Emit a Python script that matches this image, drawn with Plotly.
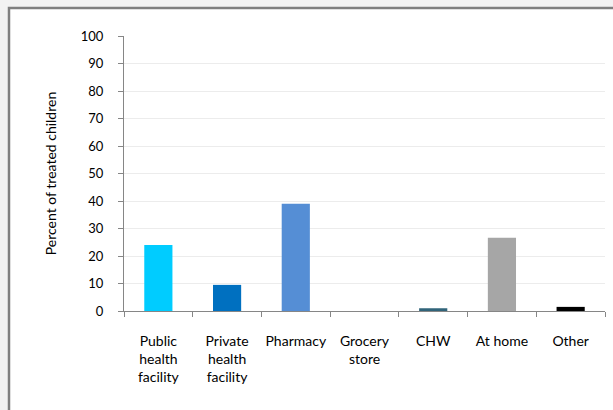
import plotly.graph_objects as go

categories = ["Public<br>health<br>facility", "Private<br>health<br>facility", "Pharmacy",
              "Grocery<br>store", "CHW", "At home", "Other"]
percent_treated = [24, 9.5, 39, 0, 1, 26.6, 1.5]
bar_colors = ["#00CCFF", "#0070C0", "#558ED5", "#31859C", "#31647A", "#A6A6A6", "#000000"]
y_ticks = [0, 10, 20, 30, 40, 50, 60, 70, 80, 90, 100]

W, H = 613, 410
L, R, T, B = 124, 8, 36, 99
pw, ph = W - L - R, H - T - B

def px_x(p):
    return (p - L) / pw

def px_y(p):
    return (H - B - p) / ph

fig = go.Figure(go.Bar(
    x=categories, y=percent_treated,
    marker=dict(color=bar_colors, line=dict(width=0)),
    width=0.41,
))

# white chart card with a gray frame on a light gray page
fig.add_shape(type="rect", xref="paper", yref="paper",
              x0=px_x(9), x1=px_x(640), y0=px_y(8), y1=px_y(440),
              fillcolor="white", line=dict(color="#7f7f7f", width=2.5), layer="below")

font = dict(family="Lato, 'Open Sans', sans-serif", size=13, color="#000000")

fig.update_layout(
    width=W, height=H,
    margin=dict(l=L, r=R, t=T, b=B),
    paper_bgcolor="#f2f2f2",
    plot_bgcolor="rgba(0,0,0,0)",
    font=font,
    showlegend=False,
    bargap=0.59,
    xaxis=dict(
        type="category", tickson="boundaries", ticks="outside", ticklen=5,
        tickcolor="#868686", tickwidth=1,
        showline=True, linecolor="#868686", linewidth=1,
        showgrid=False, tickangle=0, ticklabelstandoff=17,
        tickfont=dict(size=14),
    ),
    yaxis=dict(
        range=[0, 100], tickvals=y_ticks, ticks="outside", ticklen=5,
        tickcolor="#868686", showline=True, linecolor="#868686", linewidth=1,
        showgrid=True, gridcolor="#ececec", gridwidth=1, zeroline=False,
        ticklabelstandoff=12,
        title=dict(text="Percent of treated children", standoff=20, font=dict(size=14)),
        tickfont=dict(size=13),
    ),
)

fig.write_html("out.html")
